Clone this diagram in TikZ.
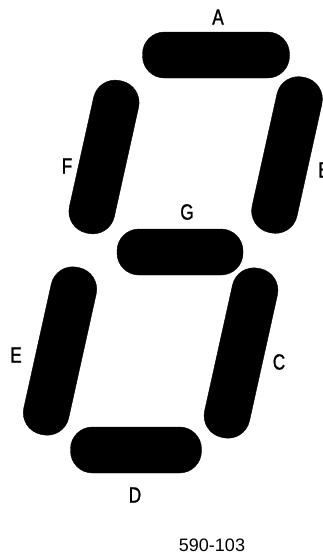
\documentclass[tikz,border=0pt]{standalone}
\usepackage{fontspec}
\setmainfont{Liberation Sans}
\newfontfamily\seglabelfont[FakeStretch=0.78,FakeBold=1.2]{Liberation Sans}
\usetikzlibrary{positioning}

\begin{document}
\begin{tikzpicture}[x=1pt,y=-1pt,
seg/.style={fill=black,draw=black,inner sep=0pt,rounded corners=22pt},
hseg/.style={seg,minimum width=#1,minimum height=46pt},
vseg/.style={seg,minimum width=46pt,minimum height=#1,rotate=-12.5},
lbl/.style={font=\seglabelfont\fontsize{22}{22}\selectfont,inner sep=0pt}]
\useasboundingbox (0,0) rectangle (323,557);
% segments
\node[hseg=147pt] (segA) at (216,55) {};
\node[vseg=159pt] (segB) at (287,155) {};
\node[vseg=173pt] (segC) at (241,353) {};
\node[hseg=131pt] (segD) at (136,450) {};
\node[vseg=171pt] (segE) at (60,351) {};
\node[vseg=156pt] (segF) at (104,157) {};
\node[hseg=126pt] (segG) at (180,252) {};
% labels
\node[lbl] (labA) at (218,17) {A};
\node[lbl] (labB) at (324,170) {B};
\node[lbl] (labC) at (279,362) {C};
\node[lbl] (labD) at (135,495) {D};
\node[lbl] (labE) at (16,355) {E};
\node[lbl] (labF) at (67,166) {F};
\node[lbl] (labG) at (187,212) {G};
\node[font=\fontsize{18}{18}\selectfont,inner sep=0pt] (fignum) at (212,545) {590-103};
\end{tikzpicture}
\end{document}
